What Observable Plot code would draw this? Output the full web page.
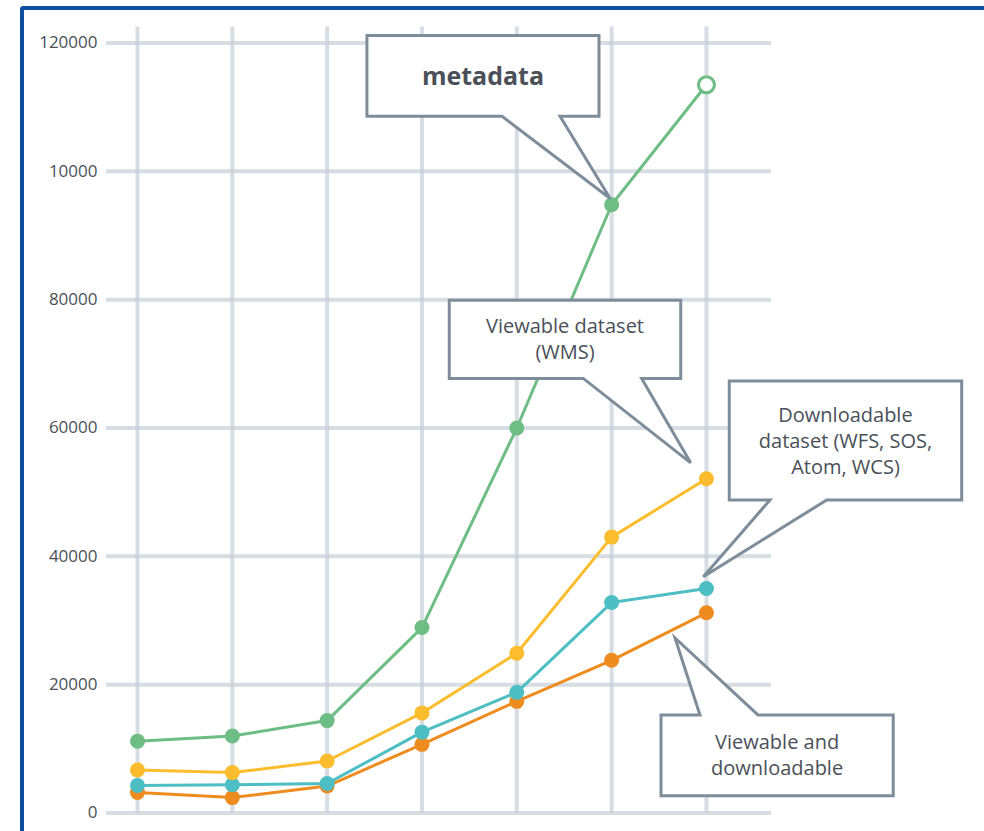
<!DOCTYPE html>
<html>
<head>
<meta charset="utf-8">
<script src="https://cdn.jsdelivr.net/npm/d3@7"></script>
<script src="https://cdn.jsdelivr.net/npm/@observablehq/plot@0.6"></script>
<style>
  html, body { margin: 0; padding: 0; background: #fff; overflow: hidden; }
  #wrap { position: relative; width: 984px; height: 831px; }
  #frame { position: absolute; left: 20px; top: 6px; width: 1200px; height: 1200px;
           border-left: 4.5px solid #0d4ea3; border-top: 4.5px solid #0d4ea3;
           border-top-left-radius: 4px; pointer-events: none; z-index: 5; }
</style>
</head>
<body>
<div id="wrap"><div id="frame"></div></div>
<script>
// ---- data ----
const steps = [0, 1, 2, 3, 4, 5, 6];
const metadata     = [11200, 12000, 14400, 28900, 60000, 94800, 113500];
const viewable     = [6700, 6300, 8100, 15600, 24900, 43000, 52100];
const downloadable = [4300, 4400, 4600, 12600, 18800, 32800, 35000];
const viewDown     = [3200, 2400, 4200, 10700, 17400, 23800, 31200];
const yTicks      = [0, 20000, 40000, 60000, 80000, 100000, 120000];
const yTickLabels = ["0", "20000", "40000", "60000", "80000", "10000", "120000"];
const seriesNames = ["Viewable and downloadable", "Downloadable dataset", "Viewable dataset", "metadata"];
const seriesColors = ["#ef8c20", "#4dbec4", "#fbbd2d", "#6dbd84"];
const seriesValues = [viewDown, downloadable, viewable, metadata];

// callout annotations in data coordinates (x = step, y = value)
const callouts = [
  {lines: ["metadata"], bold: true, size: 25, box: [2.425, 4.872, 121100, 108500], notch: "bottom", base: [3.849, 4.461], tip: [4.99, 95700]},
  {lines: ["Viewable dataset", "(WMS)"], box: [3.293, 5.734, 79850, 67650], notch: "bottom", base: [4.706, 5.322], tip: [5.839, 54500]},
  {lines: ["Downloadable", "dataset (WFS, SOS,", "Atom, WCS)"], box: [6.246, 8.697, 67250, 48700], notch: "bottom", base: [6.675, 7.273], tip: [5.972, 36750]},
  {lines: ["Viewable and", "downloadable"], box: [5.526, 7.975, 15200, 2600], notch: "top", base: [5.937, 6.548], tip: [5.674, 27200]}
];

const rows = [];
seriesValues.forEach((vals, si) => vals.forEach((v, i) => rows.push({step: steps[i], value: v, series: seriesNames[si]})));

const marks = [
  Plot.ruleY(yTicks, {stroke: "#c5ced7", strokeOpacity: 0.7, strokeWidth: 4}),
  Plot.ruleX(steps, {stroke: "#c5ced7", strokeOpacity: 0.7, strokeWidth: 4}),
  Plot.axisY({ticks: yTicks, tickFormat: d => yTickLabels[yTicks.indexOf(d)], tickSize: 0, tickPadding: 9,
              fontSize: 17, fill: "#4a5058", label: null})
];
seriesNames.forEach((name, si) => {
  const data = rows.filter(r => r.series === name);
  const isMeta = name === "metadata";
  marks.push(Plot.line(data, {x: "step", y: "value", stroke: seriesColors[si], strokeWidth: 3}));
  marks.push(Plot.dot(isMeta ? data.slice(0, -1) : data, {x: "step", y: "value", r: 7.5, fill: seriesColors[si], stroke: "none"}));
  if (isMeta) marks.push(Plot.dot(data.slice(-1), {x: "step", y: "value", r: 8, fill: "white", stroke: seriesColors[si], strokeWidth: 3}));
});

const plot = Plot.plot({
  width: 984, height: 831,
  marginLeft: 106, marginRight: 213, marginTop: 26.5, marginBottom: 18.5,
  x: {domain: [-0.327, 6.686], axis: null},
  y: {domain: [0, 122500], axis: null},
  style: {fontFamily: "'Open Sans', sans-serif", background: "white"},
  marks
});
document.getElementById("wrap").appendChild(plot);

// draw callouts with the plot's scales
const sx = plot.scale("x"), sy = plot.scale("y");
const svg = d3.select(plot);
const g = svg.append("g");
callouts.forEach(c => {
  const x1 = sx.apply(c.box[0]), x2 = sx.apply(c.box[1]);
  const yt = sy.apply(c.box[2]), yb = sy.apply(c.box[3]);
  const b1 = sx.apply(c.base[0]), b2 = sx.apply(c.base[1]);
  const tx = sx.apply(c.tip[0]), ty = sy.apply(c.tip[1]);
  let pts;
  if (c.notch === "bottom") {
    pts = [[x1, yt], [x2, yt], [x2, yb], [b2, yb], [tx, ty], [b1, yb], [x1, yb]];
  } else {
    pts = [[x1, yt], [b1, yt], [tx, ty], [b2, yt], [x2, yt], [x2, yb], [x1, yb]];
  }
  g.append("path")
    .attr("d", "M" + pts.map(p => p.join(",")).join("L") + "Z")
    .attr("fill", "white").attr("stroke", "#7e8d9a").attr("stroke-width", 3).attr("stroke-linejoin", "miter");
  const cx = (x1 + x2) / 2, cy = (yt + yb) / 2;
  const lh = 26, n = c.lines.length;
  const t = g.append("text")
    .attr("text-anchor", "middle")
    .attr("font-family", "'Open Sans', sans-serif")
    .attr("font-size", c.size || 20)
    .attr("font-weight", c.bold ? 700 : 400)
    .attr("fill", "#4a5058");
  c.lines.forEach((line, i) => {
    t.append("tspan").attr("x", cx).attr("y", cy + (i - (n - 1) / 2) * lh).attr("dy", "0.35em").text(line);
  });
});
</script>
</body>
</html>
